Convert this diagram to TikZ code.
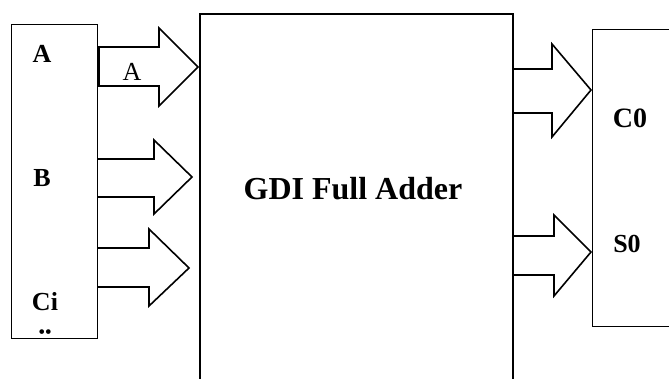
\documentclass[tikz,border=0pt]{standalone}
\usepackage{fontspec}
\setmainfont{Liberation Serif}
\begin{document}
\begin{tikzpicture}[x=0.5pt,y=-0.5pt,
  thinbox/.style={draw,line width=0.5pt},
  mainbox/.style={draw,line width=1.1pt},
  blockarrow/.style={draw,line width=0.8pt,line join=miter},
  lbl/.style={inner sep=0pt,anchor=base,font=\fontsize{13}{15}\selectfont\bfseries},
  biglbl/.style={inner sep=0pt,anchor=base,font=\fontsize{16}{19}\selectfont\bfseries}]
\useasboundingbox (0,0) rectangle (669,379);
\clip (0,0) rectangle (669,379);
% input arrows
\draw[blockarrow] (99,47) -- (159,47) -- (159,28) -- (198,67) -- (159,106) -- (159,86) -- (99,86) -- cycle;
\draw[blockarrow] (97,159) -- (154,159) -- (154,140) -- (192,177) -- (154,214) -- (154,197) -- (97,197);
\draw[blockarrow] (97,248) -- (149,248) -- (149,229) -- (189,268) -- (149,306) -- (149,287) -- (97,287);
% output arrows
\draw[blockarrow] (512,69) -- (552,69) -- (552,44) -- (591,90) -- (552,137) -- (552,113) -- (512,113);
\draw[blockarrow] (512,236) -- (554,236) -- (554,215) -- (591,252) -- (554,296) -- (554,275) -- (512,275);
% boxes
\node[thinbox,minimum width=43pt,minimum height=157pt,anchor=north west,inner sep=0pt] (inbox) at (11,24) {};
\node[mainbox,minimum width=156.5pt,minimum height=200pt,anchor=north west,inner sep=0pt] (fa) at (199,13) {};
\node[thinbox,minimum width=60pt,minimum height=148.5pt,anchor=north west,inner sep=0pt] (outbox) at (592,29) {};
% labels
\node[lbl] (la) at (42,63) {A};
\node[lbl] (lb) at (42,187) {B};
\node[lbl] (lc) at (45,310) {Ci};
\node[lbl,font=\fontsize{20}{22}\selectfont\bfseries] (ld) at (40,356) {\"{}};
\node[inner sep=0pt,anchor=base,font=\fontsize{13}{15}\selectfont] (aa) at (132,81) {A};
\node[biglbl] (gdi) at (353,200) {GDI Full Adder};
\node[lbl,font=\fontsize{14}{16}\selectfont\bfseries] (c0) at (630,128) {C0};
\node[lbl] (s0) at (627,253) {S0};
\end{tikzpicture}
\end{document}
